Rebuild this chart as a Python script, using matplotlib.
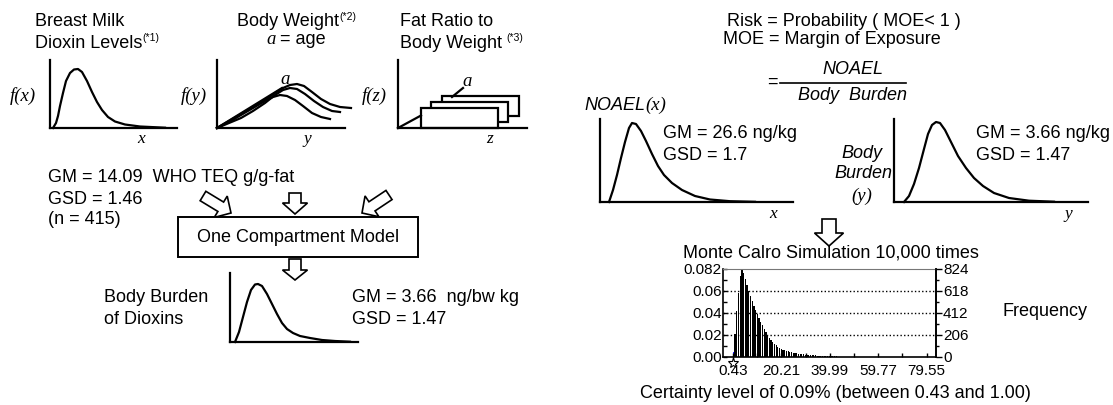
import numpy as np
import matplotlib
matplotlib.use('Agg')
import matplotlib.pyplot as plt
from matplotlib.patches import Polygon, Rectangle

plt.rcParams['font.family'] = ['Liberation Sans', 'DejaVu Sans']
SERIF = ['Liberation Serif', 'DejaVu Serif']

# ---------------- data ----------------
# schematic distribution curves, in each mini panel's own units
milk_x = [3, 6, 8, 10, 13, 16, 20, 24, 28, 32, 37, 42, 47, 52, 58, 65, 75, 90, 115]
milk_y = [0, 5, 12, 22, 35, 47, 55, 58.5, 59, 56, 47, 36, 26, 18, 11, 6.5, 3.5, 1.5, 0.3]

bw1_x = [0, 12, 24, 36, 48, 56, 63, 70, 78, 86, 95, 104, 113]
bw1_y = [0, 6, 13, 20, 27, 31, 33, 32, 28, 22, 15, 11, 9]
bw2_x = [0, 12, 24, 36, 48, 58, 66, 73, 80, 88, 97, 106, 115, 123]
bw2_y = [0, 5, 10, 17, 25, 33, 38, 40, 39, 34, 27, 21, 17, 16]
bw3_x = [0, 12, 24, 36, 48, 58, 66, 73, 80, 87, 95, 104, 113, 123, 134]
bw3_y = [0, 7, 14, 21, 28, 35, 40, 43, 44, 42, 36, 29, 24, 21, 20]
bw_line_x = [0, 65]
bw_line_y = [0, 40]

fat_line_x = [0, 23]
fat_line_y = [0, 12.5]
fat_rects = [(44, 12, 77, 20), (33, 6, 77, 20), (23, 0, 77, 20)]   # back -> front (x, y, w, h)
fat_tick_x = [54, 65]
fat_tick_y = [31, 40]

bb_x = [5, 9, 13, 17, 21, 25, 28, 32, 37, 42, 47, 52, 57, 63, 70, 80, 92, 105, 120]
bb_y = [0, 10, 25, 40, 52, 57.5, 58, 56, 48, 38, 28, 19, 13, 9, 6, 4, 2, 1, 0.3]

noael_x = [9, 13, 17, 21, 25, 29, 32, 36, 41, 46, 52, 58, 64, 72, 82, 95, 110, 130, 155]
noael_y = [0, 12, 27, 44, 60, 74, 79, 78, 71, 61, 48, 36, 27, 19, 12, 6, 2.5, 0.8, 0.2]

burden_x = [10, 15, 20, 25, 30, 34, 38, 42, 46, 51, 57, 64, 72, 80, 89, 100, 115, 135, 160]
burden_y = [0, 6, 18, 34, 53, 68, 77, 80, 79, 72, 60, 46, 34, 24, 16, 9, 4, 1.3, 0.3]

# Monte Carlo histogram of MOE (frequency per bin, 10,000 trials)
bin_start = 1.0
bin_width = 0.7
moe_counts = [215, 430, 600, 760, 824, 790, 730, 670, 620, 570, 520, 480, 440, 400,
              365, 330, 295, 265, 235, 205, 180, 160, 142, 125, 110, 98, 87, 78, 70,
              63, 57, 52, 48, 44, 40, 37, 34, 31, 29, 27, 25, 23, 21, 20, 18, 17, 16,
              15, 14, 13, 12, 11, 10, 9, 8, 7, 6, 6, 5, 5, 4, 4, 3, 3, 3, 2, 2, 2, 1, 1, 1]
certain_lo, certain_hi, certain_count = 0.43, 1.00, 45
x_ticks = [0.43, 20.21, 39.99, 59.77, 79.55]
x_minor = [10.32, 30.10, 49.88, 69.66]
freq_ticks = [0, 206, 412, 618, 824]
prob_labels = ['0.00', '0.02', '0.04', '0.06', '0.082']

# ---------------- figure ----------------
W, H = 1113, 405
fig = plt.figure(figsize=(W / 100, H / 100), dpi=100)
cv = fig.add_axes([0, 0, 1, 1])
cv.set_xlim(0, W)
cv.set_ylim(H, 0)
cv.axis('off')

FS = 13
LW = 1.6


def panel(left, top, width, height):
    ax = fig.add_axes([left / W, 1 - (top + height) / H, width / W, height / H])
    ax.set_xlim(0, width)
    ax.set_ylim(0, height)
    ax.patch.set_alpha(0)
    for s in ('top', 'right'):
        ax.spines[s].set_visible(False)
    for s in ('left', 'bottom'):
        ax.spines[s].set_linewidth(LW)
        ax.spines[s].set_capstyle('projecting')
    ax.set_xticks([])
    ax.set_yticks([])
    return ax


def curve(ax, xs, ys):
    ax.plot(xs, ys, color='black', lw=LW, solid_joinstyle='round', clip_on=False)


def txt(x, y, s, ha='left', size=FS, **kw):
    return cv.text(x, y, s, ha=ha, va='center', fontsize=size, **kw)


def sup(t, s, size=7.5, dx=0):
    cv.annotate(s, xy=(1, 0.5), xycoords=t, xytext=(dx, 0), textcoords='offset points',
                ha='left', va='bottom', fontsize=size)


def block_arrow(tail, tip, shaft_w, head_w, head_len):
    tail = np.array(tail, float)
    tip = np.array(tip, float)
    d = tip - tail
    u = d / np.hypot(*d)
    n = np.array([-u[1], u[0]])
    base = tip - u * head_len
    pts = [tail + n * shaft_w / 2, base + n * shaft_w / 2, base + n * head_w / 2, tip,
           base - n * head_w / 2, base - n * shaft_w / 2, tail - n * shaft_w / 2]
    cv.add_patch(Polygon(pts, closed=True, fc='white', ec='black', lw=1.2, joinstyle='miter'))


# ---- left: input distributions ----
txt(35, 22, 'Breast Milk')
t = txt(35, 43, 'Dioxin Levels')
sup(t, '(*1)')
ax1 = panel(50, 60, 127, 68)
curve(ax1, milk_x, milk_y)
txt(23, 96, 'f(x)', ha='center', size=13.5, family=SERIF, style='italic')
txt(141, 139, 'x', ha='center', size=12.5, family=SERIF, style='italic')

t = txt(237, 22, 'Body Weight')
sup(t, '(*2)')
t = txt(266, 40, 'a', size=13.5, family=SERIF, style='italic')
cv.annotate(' = age', xy=(1, 0), xycoords=t, ha='left', va='bottom', fontsize=FS)
ax2 = panel(217, 60, 128, 68)
curve(ax2, bw_line_x, bw_line_y)
curve(ax2, bw1_x, bw1_y)
curve(ax2, bw2_x, bw2_y)
curve(ax2, bw3_x, bw3_y)
txt(194, 96, 'f(y)', ha='center', size=13.5, family=SERIF, style='italic')
txt(307, 139, 'y', ha='center', size=12.5, family=SERIF, style='italic')
txt(285, 79, 'a', ha='center', size=13.5, family=SERIF, style='italic')

txt(400, 22, 'Fat Ratio to')
t = txt(400, 43, 'Body Weight')
sup(t, '(*3)', dx=3)
ax3 = panel(398, 60, 129, 68)
curve(ax3, fat_line_x, fat_line_y)
for (rx, ry, rw, rh) in fat_rects:
    ax3.add_patch(Rectangle((rx, ry), rw, rh, fc='white', ec='black', lw=LW, clip_on=False))
curve(ax3, fat_tick_x, fat_tick_y)
txt(374, 96, 'f(z)', ha='center', size=13.5, family=SERIF, style='italic')
txt(490, 139, 'z', ha='center', size=12.5, family=SERIF, style='italic')
txt(467, 81, 'a', ha='center', size=13.5, family=SERIF, style='italic')

txt(48, 177, 'GM = 14.09  WHO TEQ g/g-fat')
txt(48, 199, 'GSD = 1.46')
txt(48, 220, '(n = 415)')

block_arrow((203, 196), (231, 213), 11, 25, 12)
block_arrow((295, 193), (295, 214), 12, 25, 11)
block_arrow((389, 195), (362, 213), 11, 25, 12)

cv.add_patch(Rectangle((178, 217), 240, 40, fc='white', ec='black', lw=1.4))
txt(298, 237, 'One Compartment Model', ha='center')
block_arrow((295, 259), (295, 280), 12, 25, 10)

txt(104, 298, 'Body Burden')
txt(104, 319, 'of Dioxins')
ax4 = panel(230, 273, 128, 69)
curve(ax4, bb_x, bb_y)
txt(352, 298, 'GM = 3.66  ng/bw kg')
txt(352, 319, 'GSD = 1.47')

# ---- right: risk model ----
txt(844, 21, 'Risk = Probability ( MOE< 1 )', ha='center')
txt(832, 40, 'MOE = Margin of Exposure', ha='center')
txt(772, 82, '=', ha='center')
txt(853, 70, 'NOAEL', ha='center', style='italic')
cv.plot([780, 906], [83, 83], color='black', lw=1.2)
txt(853, 96, 'Body  Burden', ha='center', style='italic')

t = cv.text(584, 106, 'NOAEL', ha='left', va='center', fontsize=FS, style='italic')
cv.annotate('(x)', xy=(1, 0), xycoords=t, ha='left', va='bottom', fontsize=13.5,
            family=SERIF, style='italic')

ax5 = panel(600, 119, 193, 83)
curve(ax5, noael_x, noael_y)
txt(663, 134, 'GM = 26.6 ng/kg')
txt(663, 155, 'GSD = 1.7')
txt(773, 214, 'x', ha='center', size=12.5, family=SERIF, style='italic')

ax6 = panel(894, 119, 194, 83)
curve(ax6, burden_x, burden_y)
txt(976, 134, 'GM = 3.66 ng/kg')
txt(976, 155, 'GSD = 1.47')
txt(862, 154, 'Body', ha='center', style='italic')
txt(863, 174, 'Burden', ha='center', style='italic')
txt(862, 196, '(y)', ha='center', size=13.5, family=SERIF, style='italic')
txt(1068, 214, 'y', ha='center', size=12.5, family=SERIF, style='italic')

block_arrow((829, 219), (829, 246), 14, 29, 13)
txt(831, 253, 'Monte Calro Simulation 10,000 times', ha='center')

# ---- histogram ----
hax = fig.add_axes([723 / W, 1 - 357 / H, 213 / W, 88 / H])
edges = bin_start + bin_width * np.arange(len(moe_counts))
hax.bar(edges, moe_counts, width=bin_width * 0.72, align='edge', color='black', lw=0)
hax.bar([certain_lo], [certain_count], width=certain_hi - certain_lo, align='edge',
        color='#2020ff', lw=0)
hax.set_xlim(-3.67, 83.35)
hax.set_ylim(0, 824)
for yv in freq_ticks[1:-1]:
    hax.axhline(yv, color='black', lw=1.0, ls=(0, (1, 1.6)), zorder=0)
hax.set_xticks(x_ticks)
hax.set_xticklabels([f'{v:.2f}' for v in x_ticks])
hax.set_xticks(x_minor, minor=True)
hax.set_yticks(freq_ticks)
hax.set_yticklabels(prob_labels)
hax.set_yticks([103, 309, 515, 721], minor=True)
hax.tick_params(axis='x', which='both', direction='in', length=3, width=1, labelsize=11, pad=5)
hax.tick_params(axis='y', which='both', direction='in', length=3, width=1, labelsize=11, pad=1)
hax.spines['top'].set_color('#777777')
for s in ('left', 'bottom', 'right'):
    hax.spines[s].set_linewidth(1.2)
hax.plot([0.43], [-0.07], marker='*', ms=8, mfc='white', mec='black', mew=0.8,
         transform=hax.get_xaxis_transform(), clip_on=False)
tw = hax.twinx()
tw.set_ylim(0, 824)
tw.set_yticks(freq_ticks)
tw.set_yticks([103, 309, 515, 721], minor=True)
tw.tick_params(axis='y', which='major', direction='out', length=4, width=1, labelsize=11, pad=1)
tw.tick_params(axis='y', which='minor', direction='out', length=2, width=1)
for s in ('left', 'bottom', 'top'):
    tw.spines[s].set_visible(False)
tw.spines['right'].set_linewidth(1.2)

txt(1002, 311, 'Frequency')
txt(835, 394, 'Certainty level of 0.09% (between 0.43 and 1.00)', ha='center')

fig.savefig('out.png', dpi=100)
